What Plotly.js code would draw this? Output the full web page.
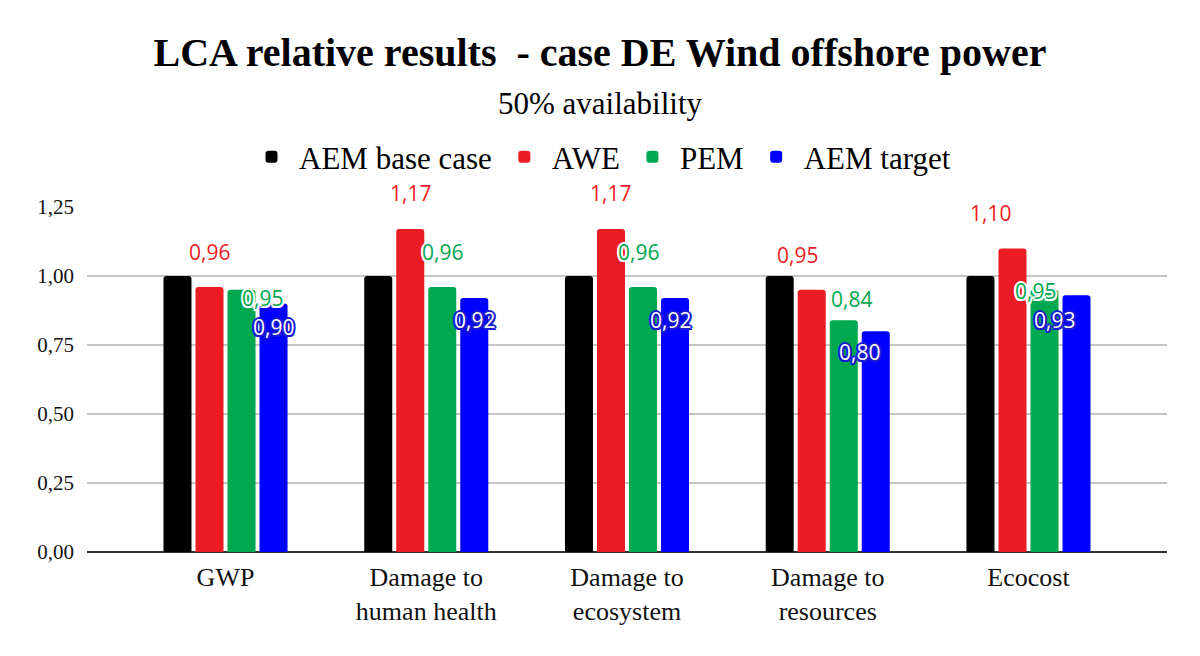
<!DOCTYPE html>
<html>
<head>
<meta charset="utf-8">
<script src="https://cdn.plot.ly/plotly-3.0.1.min.js"></script>
<style>html,body{margin:0;padding:0;background:#fff;}#chart{width:1200px;height:656px;}</style>
</head>
<body>
<div id="chart"></div>
<script>
// ---- data ----
var categories = ["GWP", "Damage to<br>human health", "Damage to<br>ecosystem", "Damage to<br>resources", "Ecocost"];
var seriesNames = ["AEM base case", "AWE", "PEM", "AEM target"];
var aemBase   = [1.00, 1.00, 1.00, 1.00, 1.00];
var awe       = [0.96, 1.17, 1.17, 0.95, 1.10];
var pem       = [0.95, 0.96, 0.96, 0.84, 0.95];
var aemTarget = [0.90, 0.92, 0.92, 0.80, 0.93];
var yTickVals = [0, 0.25, 0.5, 0.75, 1.0, 1.25];
var titleText = "LCA relative results  - case DE Wind offshore power";
var subtitleText = "50% availability";

// ---- styles ----
var colors = ["#000000", "#ec1c24", "#00a84f", "#0000ff"];
var serif = "Liberation Serif, Times New Roman, serif";
var sans = "Open Sans, Noto Sans, sans-serif";

// label offsets (px) relative to bar centre / bar top (collision layout)
var labelDx = {
  1: [0, 0, 0, -14, -22],
  2: [21, 0, -5, 8, -9],
  3: [0, 0, -5, -16, -22]
};
var labelDy = {
  1: [35, 36, 36, 35, 35],
  2: [-8, 35, 35, 21, -1],
  3: [-23, -22, -22, -21, -25]
};

var W = 1200, H = 656;
var margin = {l: 87, r: 33, t: 207, b: 104};
var xRange = [-0.69, 4.69];
var bargap = 0.362, bargroupgap = 0.125;

var values = [aemBase, awe, pem, aemTarget];
var traces = values.map(function (v, k) {
  return {
    type: "bar",
    name: seriesNames[k],
    x: categories,
    y: v,
    marker: {color: colors[k]},
    hoverinfo: "skip"
  };
});

// pixel geometry for label offsets
var plotW = W - margin.l - margin.r;
var plotH = H - margin.t - margin.b;
var catPx = plotW / (xRange[1] - xRange[0]);
var slotPx = catPx * (1 - bargap) / 4;
var annotations = [];
function fmt(v) { return v.toFixed(2).replace(".", ","); }
[1, 2, 3].forEach(function (k) {
  var off = (k - 1.5) * slotPx;
  values[k].forEach(function (v, i) {
    var isBlue = k === 3;
    var halo = isBlue ? "#1a1ad0" : "#ffffff";
    var sh = "2px 0 0 " + halo + ", -2px 0 0 " + halo + ", 0 2px 0 " + halo + ", 0 -2px 0 " + halo +
             ", 1.5px 1.5px 0 " + halo + ", -1.5px -1.5px 0 " + halo + ", 1.5px -1.5px 0 " + halo + ", -1.5px 1.5px 0 " + halo;
    annotations.push({
      xref: "x", yref: "y",
      x: categories[i], y: v,
      xshift: off + labelDx[k][i],
      yshift: labelDy[k][i],
      xanchor: "center", yanchor: "middle",
      text: fmt(v),
      showarrow: false,
      font: {family: sans, size: 21, color: isBlue ? "#ffffff" : colors[k], shadow: sh}
    });
  });
});
// subtitle
annotations.push({
  xref: "paper", yref: "paper",
  x: (W / 2 - margin.l) / plotW, y: (H - margin.b - 103) / plotH,
  xanchor: "center", yanchor: "middle",
  text: subtitleText, showarrow: false,
  font: {family: serif, size: 31, color: "#000000"}
});

var layout = {
  width: W, height: H,
  margin: margin,
  paper_bgcolor: "#ffffff",
  plot_bgcolor: "#ffffff",
  separators: ", ",
  barmode: "group",
  bargap: bargap,
  bargroupgap: bargroupgap,
  barcornerradius: 3,
  title: {
    text: "<b>" + titleText + "</b>",
    font: {family: serif, size: 40, color: "#000000"},
    x: 0.5, xanchor: "center", xref: "container",
    y: 1 - 52 / H, yanchor: "middle", yref: "container"
  },
  showlegend: true,
  legend: {
    orientation: "h",
    xref: "container", x: 0.5, xanchor: "center",
    yref: "container", y: 1 - 157 / H, yanchor: "middle",
    font: {family: serif, size: 31, color: "#000000"},
    itemwidth: 45,
    itemclick: false, itemdoubleclick: false,
    traceorder: "normal"
  },
  xaxis: {
    type: "category",
    range: xRange,
    showgrid: false,
    showline: false,
    zeroline: false,
    ticks: "",
    tickfont: {family: serif, size: 26, color: "#111111"},
    ticklabelstandoff: 7,
    fixedrange: true
  },
  yaxis: {
    range: [0, 1.25],
    tickvals: yTickVals,
    tickformat: ".2f",
    showgrid: true,
    gridcolor: "#c6c6c6",
    gridwidth: 1.5,
    zeroline: true,
    zerolinecolor: "#333333",
    zerolinewidth: 2,
    showline: false,
    ticks: "",
    tickfont: {family: serif, size: 21, color: "#111111"},
    ticklabelstandoff: 12,
    fixedrange: true
  },
  annotations: annotations
};

Plotly.newPlot("chart", traces, layout, {displayModeBar: false, staticPlot: true});
</script>
</body>
</html>
